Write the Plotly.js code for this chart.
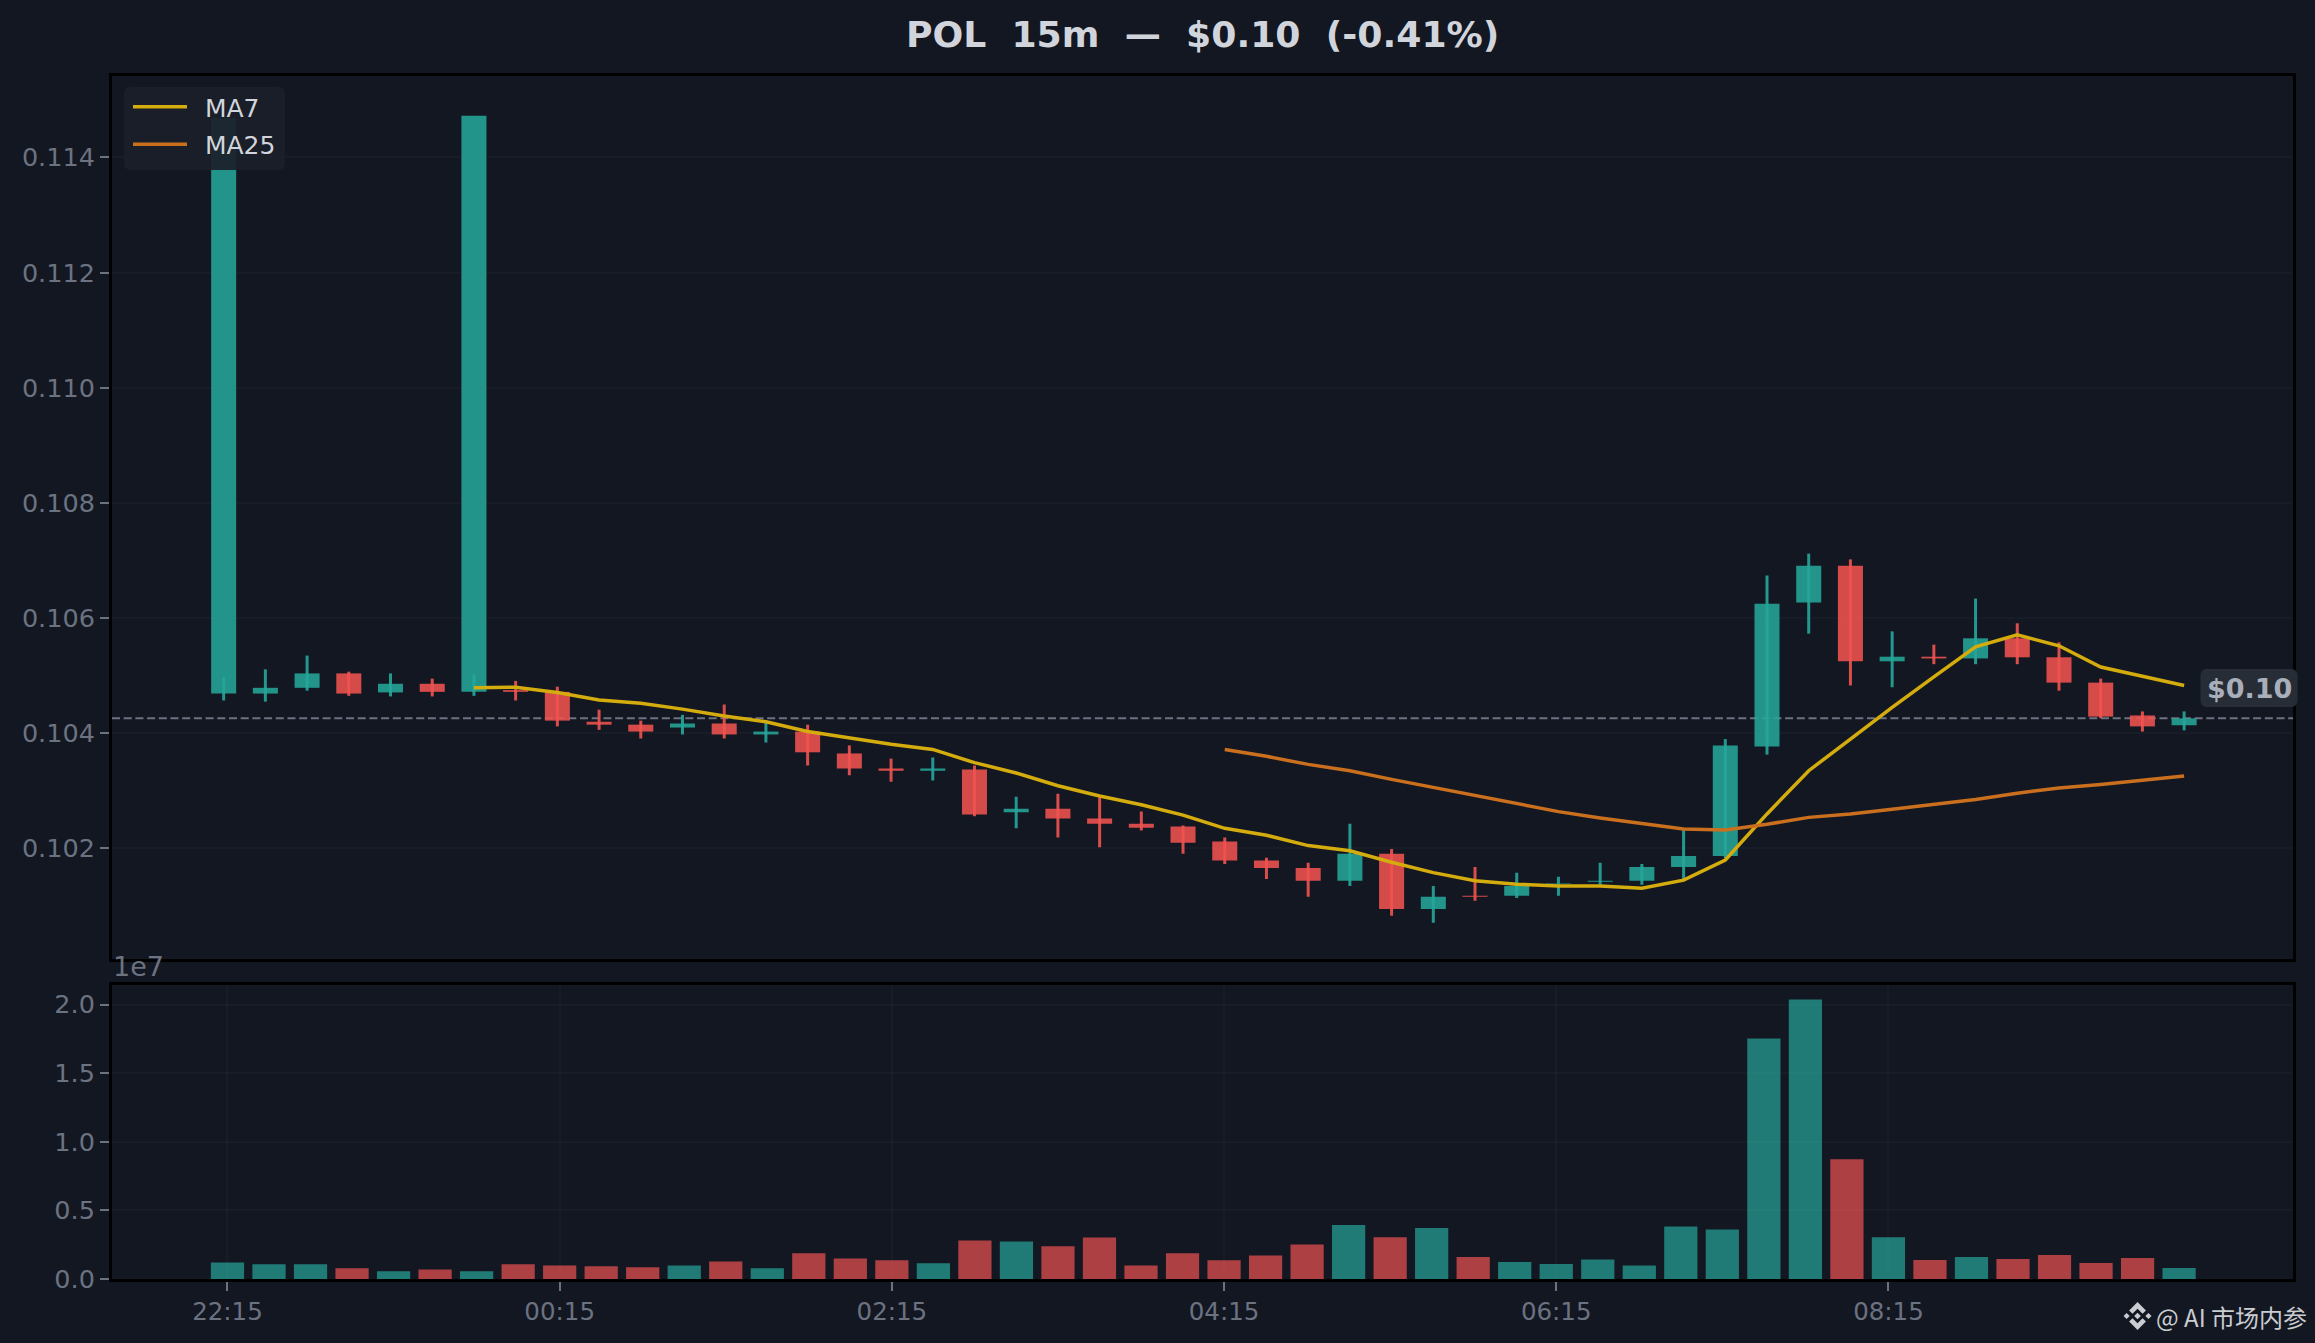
<!DOCTYPE html>
<html><head><meta charset="utf-8">
<script src="https://cdn.plot.ly/plotly-3.0.1.min.js"></script>
<style>html,body{margin:0;padding:0;background:#131722;}</style></head>
<body><div id="chart" style="width:2315px;height:1343px;"></div>
<script>
const openP  = [0.10469,0.10469,0.10479,0.10504,0.10471,0.10486,0.10472,0.10475,0.10472,0.10420,0.10415,0.10410,0.10417,0.10398,0.10403,0.10365,0.10339,0.10335,0.10337,0.10263,0.10269,0.10252,0.10243,0.10238,0.10212,0.10179,0.10166,0.10144,0.10191,0.10095,0.10118,0.10118,0.10139,0.10142,0.10144,0.10168,0.10187,0.10377,0.10627,0.10691,0.10525,0.10533,0.10530,0.10565,0.10532,0.10488,0.10431,0.10414];
const closeP = [0.11469,0.10479,0.10504,0.10469,0.10486,0.10472,0.114726,0.10472,0.10422,0.10415,0.10403,0.10417,0.10398,0.10403,0.10367,0.10339,0.10335,0.10339,0.10259,0.10269,0.10252,0.10243,0.10236,0.10210,0.10179,0.10166,0.10144,0.10191,0.10095,0.10116,0.10116,0.10135,0.10140,0.10144,0.10168,0.10187,0.10379,0.10625,0.10691,0.10525,0.10533,0.10530,0.10565,0.10532,0.10488,0.10429,0.10412,0.10426];
const highP  = [0.10498,0.10511,0.10535,0.10507,0.10504,0.10495,0.10502,0.10491,0.10481,0.10441,0.10422,0.10432,0.10450,0.10422,0.10415,0.10379,0.10356,0.10358,0.10344,0.10290,0.10295,0.10289,0.10264,0.10240,0.10219,0.10184,0.10175,0.10243,0.10199,0.10135,0.10168,0.10158,0.10151,0.10175,0.10173,0.10232,0.10390,0.10674,0.10712,0.10702,0.10577,0.10554,0.10634,0.10591,0.10558,0.10495,0.10438,0.10438];
const lowP   = [0.10457,0.10455,0.10474,0.10465,0.10464,0.10464,0.10465,0.10457,0.10412,0.10406,0.10391,0.10398,0.10391,0.10384,0.10344,0.10327,0.10316,0.10318,0.10256,0.10235,0.10219,0.10202,0.10231,0.10191,0.10173,0.10147,0.10116,0.10135,0.10083,0.10071,0.10109,0.10114,0.10118,0.10137,0.10137,0.10147,0.10183,0.10363,0.10573,0.10483,0.10480,0.10520,0.10520,0.10520,0.10474,0.10426,0.10403,0.10405];
const volume = [1210000,1070000,1070000,780000,560000,700000,560000,1070000,990000,920000,850000,990000,1280000,780000,1870000,1500000,1360000,1140000,2810000,2740000,2380000,3030000,990000,1870000,1360000,1720000,2520000,3930000,3050000,3710000,1600000,1230000,1090000,1420000,980000,3820000,3600000,17530000,20360000,8730000,3050000,1380000,1600000,1450000,1750000,1160000,1530000,800000];
const ma7 = [null,null,null,null,null,null,0.10479,0.10480,0.10471,0.10458,0.10452,0.10442,0.10430,0.10420,0.10403,0.10392,0.10381,0.10372,0.10349,0.10331,0.10309,0.10291,0.10276,0.10258,0.10235,0.10223,0.10205,0.10196,0.10176,0.10158,0.10144,0.10138,0.10135,0.10135,0.10131,0.10145,0.10180,0.10260,0.10335,0.10390,0.10445,0.10498,0.10550,0.10571,0.10552,0.10515,0.10499,0.10483];
const ma25 = [null,null,null,null,null,null,null,null,null,null,null,null,null,null,null,null,null,null,null,null,null,null,null,null,0.10372,0.10360,0.10346,0.10335,0.10320,0.10306,0.10291,0.10277,0.10264,0.10253,0.10243,0.10234,0.10232,0.10242,0.10254,0.10260,0.10268,0.10276,0.10285,0.10296,0.10305,0.10311,0.10318,0.10326];
const timeTickIdx = [0,8,16,24,32,40];
const timeLabels = ['22:15','00:15','02:15','04:15','06:15','08:15'];
const priceTicks = [0.102,0.104,0.106,0.108,0.110,0.112,0.114];
const volTicks = [0,5000000,10000000,15000000,20000000];
const volTickLabels = ['0.0','0.5','1.0','1.5','2.0'];
const lastPrice = 0.10426;
const titleText = 'POL\u00A0\u00A015m\u00A0\u00A0—\u00A0\u00A0$0.10\u00A0\u00A0(-0.41%)';

const BG='#131722', TICK='#6b7280', GRID='rgba(255,255,255,0.025)', TXT='#d1d5db';
const idx = closeP.map((_,i)=>i);
const up = idx.map(i=>closeP[i]>=openP[i]);
const bodyCol = up.map(u=>u?'rgba(38,166,154,0.87)':'rgba(239,83,80,0.88)');
const wickCol = up.map(u=>u?'rgba(38,166,154,0.9)':'rgba(239,83,80,0.9)');
const volCol  = up.map(u=>u?'rgba(38,166,154,0.7)':'rgba(239,83,80,0.7)');

// plot-frame geometry (pixels) used only for page furniture
const L=112, R=2293.5, T=76, B=1279;
const W=R-L, H=B-T;
const px=x=>(x-L)/W, py=y=>(B-y)/H;
function poly(points,fill){
  return {type:'path',xref:'paper',yref:'paper',layer:'above',fillcolor:fill,line:{width:0},
    path:points.map((p,i)=>(i?'L':'M')+px(p[0]).toFixed(5)+','+py(p[1]).toFixed(5)).join(' ')+' Z'};
}
function roundRect(x0,y0,x1,y1,r,fill){
  const pts=[],n=5;
  [[x1-r,y0+r,-90],[x1-r,y1-r,0],[x0+r,y1-r,90],[x0+r,y0+r,180]].forEach(c=>{
    for(let k=0;k<=n;k++){const a=(c[2]+k*90/n)*Math.PI/180;pts.push([c[0]+r*Math.cos(a),c[1]+r*Math.sin(a)]);}
  });
  return poly(pts,fill);
}
function logo(cx,cy,s,fill){
  const P=a=>a.map(p=>[cx+p[0]*s,cy+p[1]*s]);
  const dia=(x,y,r)=>P([[x,y-r],[x+r,y],[x,y+r],[x-r,y]]);
  const chevT=[[0,-1],[.6,-.4],[.36,-.16],[0,-.52],[-.36,-.16],[-.6,-.4]];
  const chevB=chevT.map(p=>[p[0],-p[1]]);
  return [poly(P(chevT),fill),poly(P(chevB),fill),poly(dia(0,0,.24),fill),poly(dia(-.78,0,.22),fill),poly(dia(.78,0,.22),fill)];
}

const traces=[
 {type:'bar',x:idx,base:idx.map(i=>Math.min(openP[i],closeP[i])),y:idx.map(i=>Math.abs(closeP[i]-openP[i])),width:0.6,
  marker:{color:bodyCol,line:{width:0}},showlegend:false,hoverinfo:'skip',xaxis:'x',yaxis:'y'},
 {type:'bar',x:idx,base:lowP,y:idx.map(i=>highP[i]-lowP[i]),width:0.072,
  marker:{color:wickCol,line:{width:0}},showlegend:false,hoverinfo:'skip',xaxis:'x',yaxis:'y'},
 {type:'scatter',mode:'lines',x:idx,y:ma7,name:'\u00A0\u2009MA7',legendgroup:'a',line:{color:'#d4ac0d',width:3.5},xaxis:'x',yaxis:'y'},
 {type:'scatter',mode:'lines',x:idx,y:ma25,name:'\u00A0\u2009MA25',legendgroup:'b',line:{color:'#ca6f1e',width:3.5},xaxis:'x',yaxis:'y'},
 {type:'bar',x:idx,y:volume,width:0.8,marker:{color:volCol,line:{width:0}},showlegend:false,hoverinfo:'skip',xaxis:'x2',yaxis:'y2'}
];
const tickFont={family:'DejaVu Sans',size:24.5,color:TICK};
const yTickFont={family:'DejaVu Sans',size:25.5,color:TICK};
const axisCommon={showline:true,linecolor:'#000',linewidth:3,mirror:true,zeroline:false,tickfont:tickFont};
const layout={
 width:2315,height:1343,paper_bgcolor:BG,plot_bgcolor:BG,
 font:{family:'DejaVu Sans',color:TXT},barmode:'overlay',
 margin:{l:L,r:2315-R,t:T,b:1343-B,pad:0},
 title:{text:titleText,x:0.5195,xref:'container',xanchor:'center',y:1-34/1343,yanchor:'middle',font:{family:'DejaVu Sans',size:36.2,weight:'bold',color:TXT}},
 xaxis:{...axisCommon,domain:[0,1],anchor:'y',range:[-2.677,49.61],showticklabels:false,ticks:'',showgrid:false},
 yaxis:{...axisCommon,tickfont:yTickFont,domain:[py(958.5),1],anchor:'x',range:[0.100089,0.115415],tickvals:priceTicks,ticktext:priceTicks.map(v=>v.toFixed(3)),
        ticks:'outside',ticklen:9,tickwidth:2,tickcolor:TICK,showgrid:true,gridcolor:GRID,gridwidth:2},
 xaxis2:{...axisCommon,domain:[0,1],anchor:'y2',range:[-2.781,49.743],tickvals:timeTickIdx,ticktext:timeLabels,
        ticks:'outside',ticklen:9,tickwidth:2,tickcolor:TICK,showgrid:true,gridcolor:GRID,gridwidth:2},
 yaxis2:{...axisCommon,tickfont:yTickFont,domain:[0,py(984.5)],anchor:'x2',range:[0,21457000],tickvals:volTicks,ticktext:volTickLabels,
        ticks:'outside',ticklen:9,tickwidth:2,tickcolor:TICK,showgrid:true,gridcolor:GRID,gridwidth:2},
 legend:{x:px(128),y:py(84),xanchor:'left',yanchor:'top',bgcolor:'rgba(0,0,0,0)',borderwidth:0,
         font:{family:'DejaVu Sans',size:25,color:TXT},itemwidth:54,tracegroupgap:2,traceorder:'grouped'},
 shapes:[
  {type:'line',xref:'paper',yref:'y',x0:0,x1:1,y0:lastPrice,y1:lastPrice,layer:'below',line:{color:TICK,width:2,dash:'8px,3.7px'}},
  roundRect(124,87,285,170,6,'rgba(27,31,42,0.93)'),
  roundRect(2201,669,2298,707,6,'rgba(40,46,56,0.95)'),
  ...logo(2138,1316,14,'#c9ccd1')
 ],
 annotations:[
  {xref:'paper',yref:'paper',x:px(2249.5),y:py(688),xanchor:'center',yanchor:'middle',showarrow:false,text:'$0.10',font:{family:'DejaVu Sans',size:27,weight:'bold',color:'#a9aebb'}},
  {xref:'paper',yref:'paper',x:px(111),y:py(967),xanchor:'left',yanchor:'middle',showarrow:false,text:'1e7',font:{family:'DejaVu Sans',size:27,color:TICK}},
  {xref:'paper',yref:'paper',x:px(2310),y:py(1316),xanchor:'right',yanchor:'middle',showarrow:false,text:'@ AI 市场内参',font:{family:'Noto Sans CJK SC',size:24,color:'#c9ccd1'}}
 ]
};
Plotly.newPlot('chart',traces,layout,{displayModeBar:false});
</script></body></html>
